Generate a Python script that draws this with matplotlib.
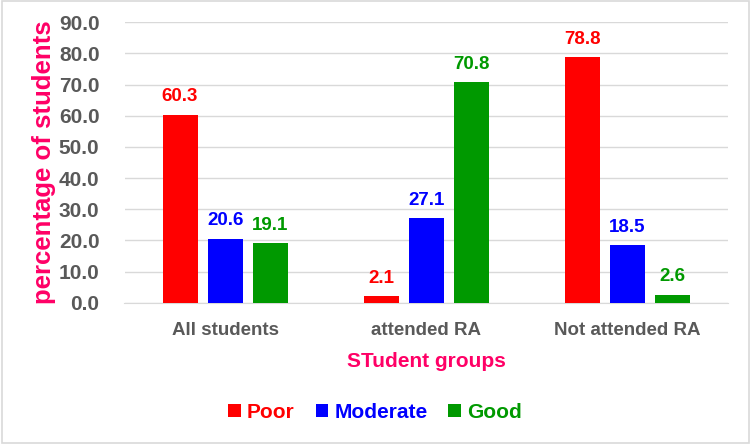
import matplotlib
matplotlib.use("Agg")
import matplotlib.pyplot as plt
import numpy as np
from matplotlib.patches import Rectangle

groups = ["All students", "attended RA", "Not attended RA"]
series = ["Poor", "Moderate", "Good"]
poor = [60.3, 2.1, 78.8]
moderate = [20.6, 27.1, 18.5]
good = [19.1, 70.8, 2.6]
colors = ["#FF0000", "#0000FF", "#009900"]
pink = "#FF0066"
gray = "#595959"

plt.rcParams['font.family'] = ['Liberation Sans', 'DejaVu Sans']

fig = plt.figure(figsize=(7.5, 4.44), dpi=100)
ax = fig.add_axes([0.166, 0.318, 0.805, 0.632])

x = np.arange(len(groups))
width = 0.174
step = 0.224
for i, (vals, c, name) in enumerate(zip([poor, moderate, good], colors, series)):
    pos = x + (i - 1) * step
    ax.bar(pos, vals, width, color=c, label=name, zorder=3)
    for p, v in zip(pos, vals):
        ax.text(p, v + 3, '{:.1f}'.format(v), ha='center', va='bottom',
                color=c, fontsize=13.5, fontweight='bold')

ax.set_xlim(-0.5, 2.5)
ax.set_ylim(0, 90)
ax.set_yticks(np.arange(0, 91, 10))
ax.set_yticklabels(['{:.1f}'.format(t) for t in np.arange(0, 91, 10)],
                   fontsize=15, fontweight='bold', color=gray)
ax.set_xticks(x)
ax.set_xticklabels(groups, fontsize=13.5, fontweight='bold', color=gray)
ax.tick_params(length=0, pad=14)
ax.tick_params(axis='y', pad=18)
ax.grid(axis='y', color='#D9D9D9', lw=1, zorder=0)
for s in ['top', 'right', 'left']:
    ax.spines[s].set_visible(False)
ax.spines['bottom'].set_color('#D9D9D9')

ax.set_ylabel('percentage of students', fontsize=18.5, fontweight='bold', color=pink)
ax.yaxis.set_label_coords(-0.113, 0.5)
ax.set_xlabel('STudent groups', fontsize=15, fontweight='bold', color=pink, labelpad=9)

leg = fig.legend(loc='center', bbox_to_anchor=(0.5, 0.072), ncol=3, frameon=False,
                 handlelength=0.6, handleheight=0.6, handletextpad=0.3, columnspacing=1.0,
                 prop={'size': 15, 'weight': 'bold'})
for t, c in zip(leg.get_texts(), colors):
    t.set_color(c)

fig.patches.append(Rectangle((0.002, 0.003), 0.996, 0.994, transform=fig.transFigure,
                             fill=False, edgecolor='#D9D9D9', lw=1.2))

fig.savefig('out.png', dpi=100)
